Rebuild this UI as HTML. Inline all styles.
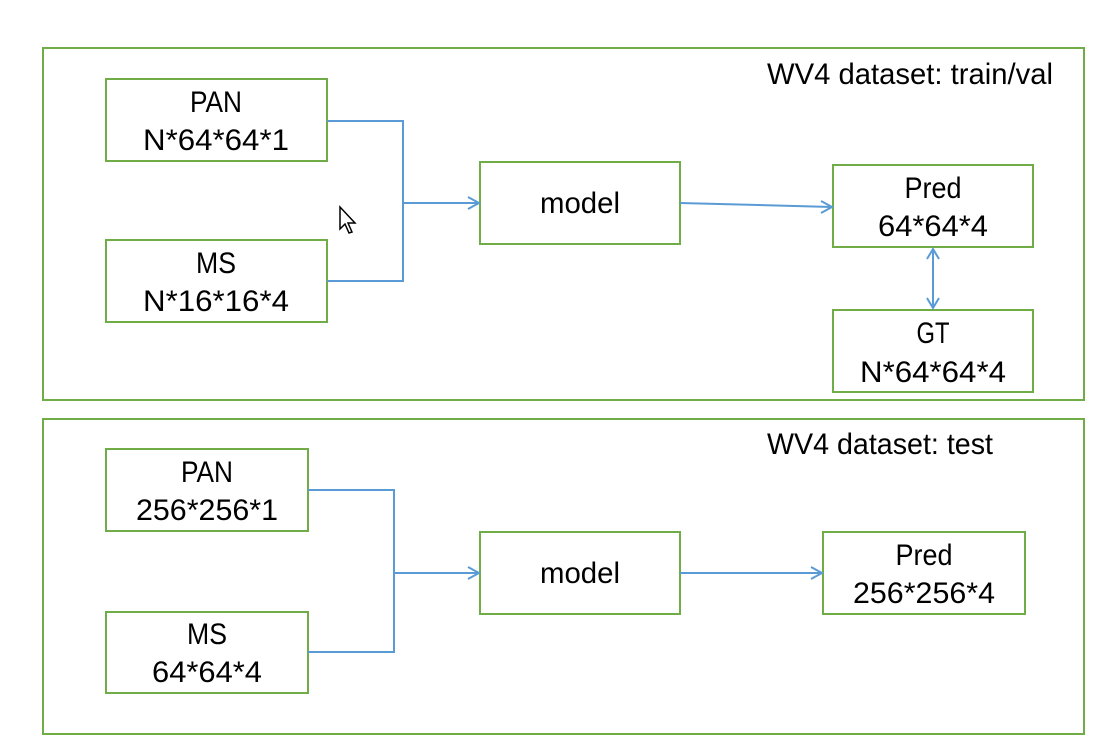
<!DOCTYPE html>
<html><head><meta charset="utf-8"><style>html,body{margin:0;padding:0;background:#fff}svg{display:block}</style></head>
<body>
<svg width="1105" height="754" viewBox="0 0 1105 754" xmlns="http://www.w3.org/2000/svg" style="font-family:'Liberation Sans',sans-serif;font-size:30px" fill="#000">
<g fill="none" stroke="#70ad47" stroke-width="2">
<rect x="43" y="48" width="1041" height="352"/>
<rect x="106" y="79" width="221" height="82"/>
<rect x="106" y="240" width="221" height="82"/>
<rect x="480" y="162" width="200" height="82"/>
<rect x="833" y="165" width="200" height="82"/>
<rect x="833" y="310" width="200" height="82"/>
<rect x="43" y="419" width="1041" height="315"/>
<rect x="106" y="449" width="202" height="82"/>
<rect x="106" y="612" width="202" height="81"/>
<rect x="480" y="532" width="200" height="82"/>
<rect x="823" y="532" width="202" height="82"/>
</g>
<g fill="none" stroke="#5b9bd5" stroke-width="2">
<polyline points="327,121 403,121 403,281 327,281"/>
<line x1="403" y1="203" x2="479" y2="203"/>
<polyline points="468,197 479,203 468,209"/>
<line x1="680" y1="203" x2="832" y2="207"/>
<polyline points="821,201 832,207 821,213"/>
<line x1="933" y1="249" x2="933" y2="308"/>
<polyline points="927,259 933,249 939,259"/>
<polyline points="927,298 933,308 939,298"/>
<polyline points="308,490 394,490 394,652 308,652"/>
<line x1="394" y1="573" x2="479" y2="573"/>
<polyline points="468,567 479,573 468,579"/>
<line x1="680" y1="573" x2="822" y2="573"/>
<polyline points="811,567 822,573 811,579"/>
</g>
<path d="M340,207 L340,229 L345,224 L349,233 L352,232 L348,223 L355,223 Z" fill="#fff" stroke="#000" stroke-width="1.5"/>
<g text-anchor="middle">
<text x="216" y="112" textLength="52" lengthAdjust="spacingAndGlyphs">PAN</text>
<text x="216" y="150" textLength="146" lengthAdjust="spacingAndGlyphs">N*64*64*1</text>
<text x="216" y="273" textLength="40" lengthAdjust="spacingAndGlyphs">MS</text>
<text x="216" y="311" textLength="146" lengthAdjust="spacingAndGlyphs">N*16*16*4</text>
<text x="580" y="213" textLength="80" lengthAdjust="spacingAndGlyphs">model</text>
<text x="933" y="198" textLength="57" lengthAdjust="spacingAndGlyphs">Pred</text>
<text x="933" y="236" textLength="110" lengthAdjust="spacingAndGlyphs">64*64*4</text>
<text x="933" y="343" textLength="33" lengthAdjust="spacingAndGlyphs">GT</text>
<text x="933" y="382" textLength="146" lengthAdjust="spacingAndGlyphs">N*64*64*4</text>
<text x="207" y="482" textLength="52" lengthAdjust="spacingAndGlyphs">PAN</text>
<text x="207" y="520" textLength="142" lengthAdjust="spacingAndGlyphs">256*256*1</text>
<text x="207" y="644" textLength="40" lengthAdjust="spacingAndGlyphs">MS</text>
<text x="207" y="682" textLength="110" lengthAdjust="spacingAndGlyphs">64*64*4</text>
<text x="580" y="583" textLength="80" lengthAdjust="spacingAndGlyphs">model</text>
<text x="924" y="565" textLength="57" lengthAdjust="spacingAndGlyphs">Pred</text>
<text x="924" y="603" textLength="142" lengthAdjust="spacingAndGlyphs">256*256*4</text>
</g>
<text x="767" y="84" textLength="286" lengthAdjust="spacingAndGlyphs">WV4 dataset: train/val</text>
<text x="767" y="454" textLength="226" lengthAdjust="spacingAndGlyphs">WV4 dataset: test</text>
</svg>
</body></html>
